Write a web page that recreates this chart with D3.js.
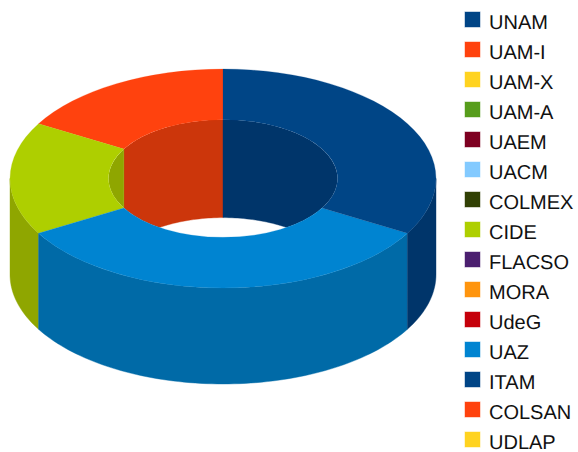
<!DOCTYPE html>
<html><head><meta charset="utf-8">
<script src="https://cdn.jsdelivr.net/npm/d3@7"></script>
<style>html,body{margin:0;padding:0;background:#fff}svg{display:block}text{font-family:"Liberation Sans",Arial,sans-serif;text-rendering:geometricPrecision}</style>
</head><body><svg id="c" width="578" height="452"></svg>
<script>
const categories=["UNAM","UAM-I","UAM-X","UAM-A","UAEM","UACM","COLMEX","CIDE","FLACSO","MORA","UdeG","UAZ","ITAM","COLSAN","UDLAP"];
const values=[0,1,0,0,0,0,0,1,0,0,0,2,2,0,0];
const colors=["#004586","#ff420e","#ffd320","#579d1c","#7e0021","#83caff","#314004","#aecf00","#4b1f6f","#ff950e","#c5000b","#0084d1","#004586","#ff420e","#ffd320"];
const sideColors=["#00356a","#cc360b","#ccaa1a","#467e16","#65001a","#69a2cc","#273303","#8fa600","#3c1959","#cc770b","#9e0009","#006aa7","#00356a","#cc360b","#ccaa1a"];

const cx=223,cy=178.5,rx=213,ry=109.5,irx=114.5,iry=58.9,depth=96,innerDepth=98;
const svg=d3.select("#c");
const data=categories.map((name,i)=>({name,value:values[i],color:colors[i],side:sideColors[i]}));
const pie=d3.pie().sort(null).value(d=>d.value).startAngle(0).endAngle(-2*Math.PI);
const arcs=pie(data).filter(d=>d.value>0).map(d=>{
  const deg=a=>a*180/Math.PI;
  const span=deg(d.startAngle)-deg(d.endAngle);
  const lo=(deg(d.endAngle)+720)%360;
  return {...d,lo,hi:lo+span};
});
const px=(r,a)=>r*Math.sin(a*Math.PI/180);
const py=(r,a)=>-r*Math.cos(a*Math.PI/180);
const line=d3.line();
function wall(Rx,Ry,a0,a1,dz){
  const n=Math.max(2,Math.ceil((a1-a0)/1.5)+1);
  const s=d3.scaleLinear().domain([0,n-1]).range([a0,a1]);
  const top=d3.range(n).map(i=>[cx+px(Rx,s(i)),cy+py(Ry,s(i))]);
  const bot=top.slice().reverse().map(p=>[p[0],p[1]+dz]);
  return line(top.concat(bot))+"Z";
}
function overlaps(lo,hi,rLo,rHi){
  const out=[];
  for(const k of [-360,0,360]){
    const a=Math.max(lo,rLo+k),b=Math.min(hi,rHi+k);
    if(b>a) out.push([a,b]);
  }
  return out;
}
svg.append("defs").append("clipPath").attr("id","hole").append("ellipse")
  .attr("cx",cx).attr("cy",cy).attr("rx",irx).attr("ry",iry);
// inner wall, far side
const inner=svg.append("g").attr("clip-path","url(#hole)");
arcs.forEach(d=>overlaps(d.lo,d.hi,-90,90).forEach(([a,b])=>{
  inner.append("path").attr("d",wall(irx,iry,a,b,innerDepth)).attr("fill",d.data.side).attr("stroke",d.data.side).attr("stroke-width",0.4);
}));
// outer wall, near side
const outer=svg.append("g");
arcs.forEach(d=>overlaps(d.lo,d.hi,90,270).forEach(([a,b])=>{
  outer.append("path").attr("d",wall(rx,ry,a,b,depth)).attr("fill",d.data.side).attr("stroke",d.data.side).attr("stroke-width",0.4);
}));
// top surface
const arcGen=d3.arc().innerRadius(irx).outerRadius(rx);
svg.append("g").attr("transform",`translate(${cx},${cy}) scale(1,${ry/rx})`)
  .selectAll("path").data(arcs).join("path")
  .attr("d",d=>arcGen(d)).attr("fill",d=>d.data.color).attr("stroke",d=>d.data.color).attr("stroke-width",0.3);
// legend
const y=d3.scalePoint().domain(categories).range([20,440]);
const lg=svg.append("g").selectAll("g").data(data).join("g").attr("transform",d=>`translate(0,${y(d.name)})`);
lg.append("rect").attr("x",465).attr("y",-8).attr("width",15).attr("height",15).attr("fill",d=>d.color).attr("stroke",d=>d.color).attr("stroke-opacity",0.45).attr("stroke-width",1);
lg.append("text").attr("x",489).attr("y",8.5).attr("font-size",20).attr("fill","#111").text(d=>d.name);
</script></body></html>
